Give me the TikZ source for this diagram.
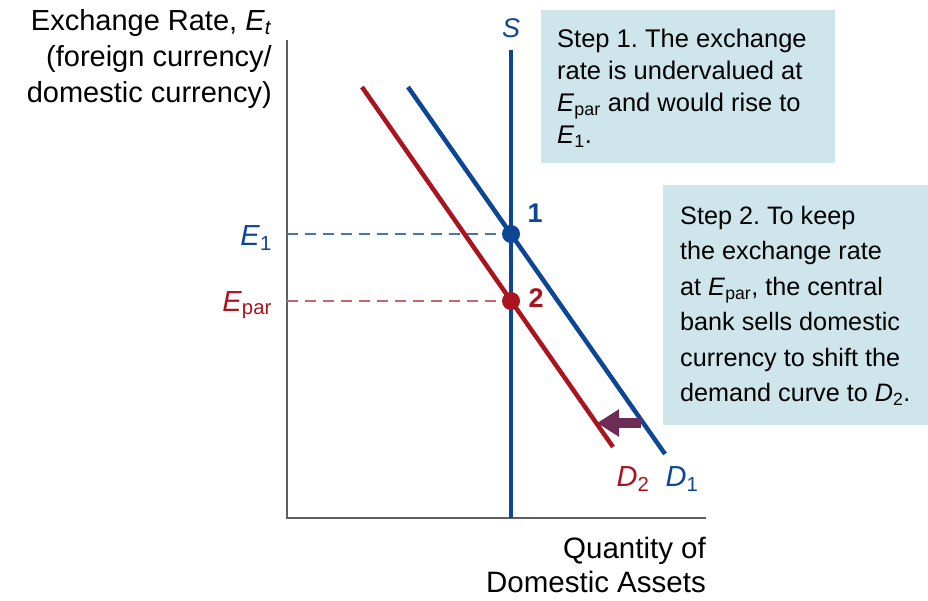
\documentclass[tikz,border=0pt]{standalone}
\usepackage{fontspec}
\setmainfont{Liberation Sans}
\usetikzlibrary{arrows.meta}
\definecolor{cblue}{RGB}{14,70,150}
\definecolor{cred}{RGB}{170,20,30}
\definecolor{boxfill}{RGB}{206,229,236}
\definecolor{axisgray}{RGB}{95,95,95}
\definecolor{arrowc}{RGB}{108,44,84}
\tikzset{
  txt/.style={inner sep=0pt, font=\fontsize{29}{34}\selectfont},
  boxtxt/.style={inner sep=0pt, anchor=north west, align=left},
  infobox/.style={fill=boxfill, draw=none, inner sep=0pt, anchor=north west},
  curve/.style={line width=4.5pt},
  guide/.style={line width=1.6pt, dash pattern=on 11pt off 7pt},
  axisline/.style={line width=1.8pt, draw=axisgray},
  eqdot/.style={circle, inner sep=0pt, minimum size=18pt},
}
\frenchspacing
\begin{document}
\begin{tikzpicture}[x=1pt,y=-1pt]
\useasboundingbox (0,0) rectangle (928,600);

% info boxes
\node (box1) [infobox, minimum width=294pt, minimum height=153pt] at (541,10) {};
\node (box2) [infobox, minimum width=265pt, minimum height=240pt] at (663,185) {};
\node (t1) [boxtxt, font=\fontsize{25.5}{32}\selectfont] at (557,29)
  {Step 1. The exchange\\rate is undervalued at\\\textit{E}\textsubscript{par} and would rise to\\\textit{E}\textsubscript{1}.};
\node (t2) [boxtxt, font=\fontsize{25.2}{35.4}\selectfont] at (680,206)
  {Step 2. To keep\\the exchange rate\\at \textit{E}\textsubscript{par}, the central\\bank sells domestic\\currency to shift the\\demand curve to \textit{D}\textsubscript{2}.};

% axes
\coordinate (top) at (287,40);
\coordinate (origin) at (287,518);
\coordinate (xend) at (706,518);
\draw[axisline] (top) -- (origin) -- (xend);

\node (ylab) [txt, anchor=north east, align=right, font=\fontsize{29}{36}\selectfont] at (272,9)
  {Exchange Rate, \textit{E}\textsubscript{\textit{t}}\\(foreign currency/\\domestic currency)};
\node (xlab) [txt, anchor=north east, align=right, font=\fontsize{29.5}{34}\selectfont] at (706,537)
  {Quantity of\\Domestic Assets};

% equilibrium points
\coordinate (p1) at (511,234);
\coordinate (p2) at (511,301);
\coordinate (e1) at (287,234);
\coordinate (ep) at (287,301);

\draw[guide, draw=cblue!75] (e1) -- (p1);
\draw[guide, draw=cred!65] (ep) -- (p2);

% supply
\coordinate (stop) at (511,50);
\coordinate (sbot) at (511,518);
\draw[curve, draw=cblue] (stop) -- (sbot);
\node (slab) [txt, text=cblue, font=\fontsize{27}{30}\selectfont\itshape] at (511,28) {S};

% demand curves
\coordinate (d1a) at (408,87);
\coordinate (d1b) at (665,454);
\coordinate (d2a) at (362,87);
\coordinate (d2b) at (613,447);
\draw[curve, draw=cblue] (d1a) -- (d1b);
\draw[curve, draw=cred] (d2a) -- (d2b);

\node (dot1) [eqdot, fill=cblue] at (p1) {};
\node (dot2) [eqdot, fill=cred] at (p2) {};
\node (n1) [txt, text=cblue, font=\fontsize{27}{30}\selectfont\bfseries] at (535,213) {1};
\node (n2) [txt, text=cred, font=\fontsize{27}{30}\selectfont\bfseries] at (536,298) {2};

\node (e1lab) [txt, text=cblue, anchor=east] at (272,238) {\textit{E}\textsubscript{1}};
\node (eplab) [txt, text=cred, anchor=east] at (272,305) {\textit{E}\textsubscript{par}};

\node (d1lab) [txt, text=cblue] at (682,479) {\textit{D}\textsubscript{1}};
\node (d2lab) [txt, text=cred] at (633,479) {\textit{D}\textsubscript{2}};

% shift arrow
\coordinate (afrom) at (641,423);
\coordinate (ato) at (597,423);
\draw[line width=10pt, draw=arrowc, -{Triangle[length=22pt, width=26pt]}] (afrom) -- (ato);
\end{tikzpicture}
\end{document}
